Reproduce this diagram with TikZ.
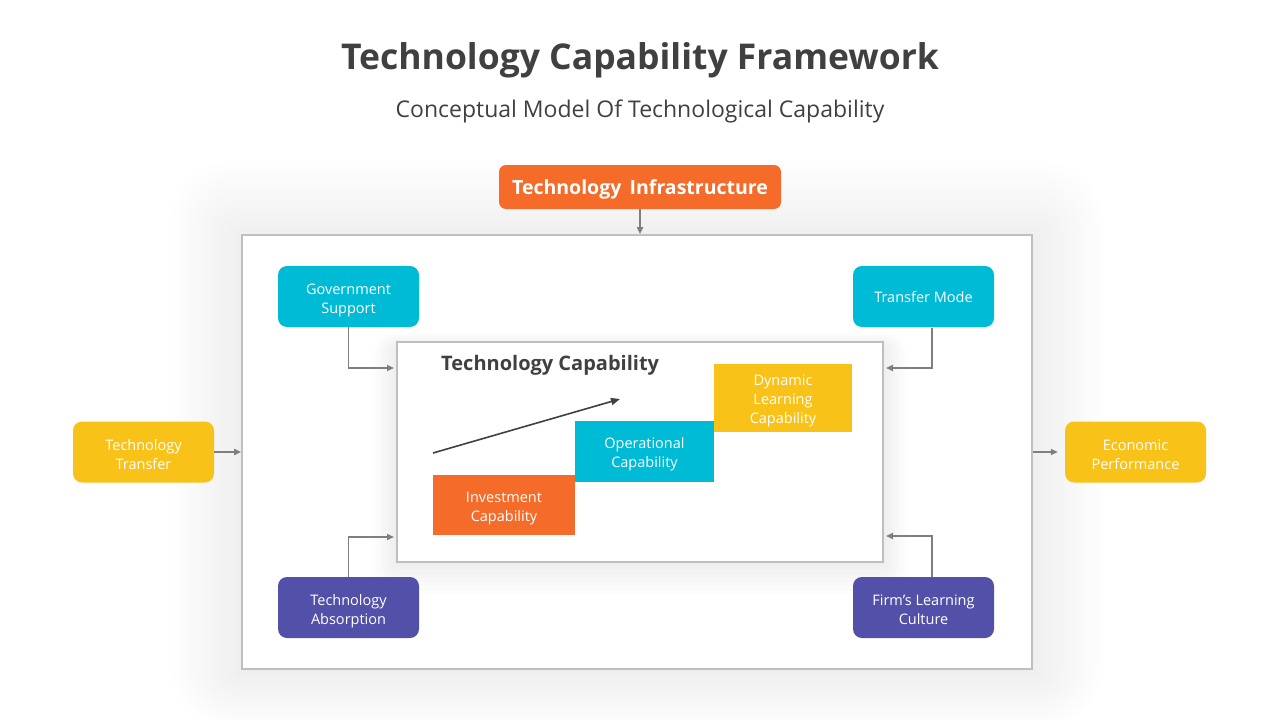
\documentclass[tikz,border=0pt]{standalone}
\usepackage{fontspec}
\setmainfont{Open Sans}
\usetikzlibrary{arrows.meta}
\definecolor{orng}{HTML}{F46B2A}
\definecolor{tealc}{HTML}{00BBD6}
\definecolor{purp}{HTML}{5350AA}
\definecolor{yell}{HTML}{F9C219}
\definecolor{txt}{HTML}{404040}
\definecolor{frame}{HTML}{BFBFBF}
\definecolor{conn}{HTML}{7F7F7F}
\newcommand\lowtop[1]{\rule{0pt}{#1}}
\tikzset{
  box/.style={rounded corners=9pt, minimum width=141pt, minimum height=61pt, align=center,
    text=white, inner sep=2pt, font=\fontsize{14.5}{19}\selectfont},
  blk/.style={minimum width=141pt, minimum height=60pt, align=center, text=white, inner sep=2pt,
    font=\fontsize{14.5}{19}\selectfont},
  connl/.style={draw=conn, line width=1.6pt, -{Triangle[length=7pt,width=6pt]}},
  framebox/.style={draw=frame, line width=1.6pt, fill=white},
}
\begin{document}
\begin{tikzpicture}[x=1pt,y=-1pt]
\useasboundingbox (0,0) rectangle (1280,720);
\fill[white] (0,0) rectangle (1280,720);
% soft shadow of outer frame
\foreach \i in {1,...,16}{
  \fill[black,opacity=0.0045,rounded corners=\i*4pt] (242-\i*4.5,240-\i*5) rectangle (1032+\i*4.5,672+\i*3.5);
}
% title
\node[font=\fontsize{35.5}{40}\selectfont\bfseries, text=txt] (title) at (640,60) {Technology Capability Framework};
\node[font=\fontsize{23}{28}\selectfont, text=txt] (sub) at (640,111) {Conceptual Model Of Technological Capability};
% outer frame
\node[framebox, minimum width=790pt, minimum height=434pt, inner sep=0pt] (outer) at (637,452) {};
% inner frame shadow
\foreach \i in {1,...,8}{
  \fill[black,opacity=0.008,rounded corners=\i*3pt] (397-\i*3,348-\i*2) rectangle (883+\i*3,562+\i*4);
}
\node[framebox, minimum width=486pt, minimum height=220pt, inner sep=0pt] (inner) at (640,452) {};
% top
\node[box, fill=orng, minimum width=282pt, minimum height=44pt, rounded corners=7pt,
  font=\fontsize{19.5}{22}\selectfont\bfseries] (infra) at (640,187) {\lowtop{21.5pt}Technology\ \,Infrastructure\strut};
\draw[connl] (infra.south) -- (infra.south |- outer.north);
% corner boxes
\node[box, fill=tealc] (gov) at (348.5,296.5) {\lowtop{21pt}Government\\Support\strut};
\node[box, fill=tealc] (tm) at (923.5,296.5) {\lowtop{17.5pt}Transfer Mode\strut};
\node[box, fill=purp] (abs) at (348.5,607.5) {\lowtop{21pt}Technology\\Absorption\strut};
\node[box, fill=purp] (firm) at (923.5,607.5) {\lowtop{21pt}Firm’s Learning\\Culture\strut};
\node[box, fill=yell] (tt) at (143.5,452) {\lowtop{21pt}Technology\\Transfer\strut};
\node[box, fill=yell] (ep) at (1135.5,452) {\lowtop{21pt}Economic\\Performance\strut};
\coordinate (gin) at (394,368);
\coordinate (tin) at (886,368);
\coordinate (ain) at (394,537);
\coordinate (fin) at (886,536);
\coordinate (tout) at (932,327.5);
\coordinate (fout) at (932,577);
\draw[connl] (gov.south) |- (gin);
\draw[connl] (tout) |- (tin);
\draw[connl] (abs.north) |- (ain);
\draw[connl] (fout) |- (fin);
\draw[connl] (tt.east) -- (outer.west |- tt.east);
\draw[connl] (outer.east |- ep.west) -- ([xshift=-7pt]ep.west);
% inner content
\node[font=\fontsize{20}{22}\selectfont\bfseries, text=txt, anchor=west, inner sep=0pt] (tc) at (441,365) {Technology Capability};
\node[blk, fill=orng, minimum width=142pt] (inv) at (504,505) {\lowtop{19.5pt}Investment\\Capability\strut};
\node[blk, fill=tealc, minimum width=139pt, minimum height=61pt] (ops) at (644.5,451.5) {\lowtop{19.5pt}Operational\\Capability\strut};
\node[blk, fill=yell, minimum width=138pt] (dyn) at (783,398) {\lowtop{19.5pt}Dynamic\\Learning\\Capability\strut};
\coordinate (a1) at (433,453);
\coordinate (a2) at (620,399);
\draw[draw=txt, line width=1.6pt, -{Triangle[length=9pt,width=7pt]}] (a1) -- (a2);
\end{tikzpicture}
\end{document}
